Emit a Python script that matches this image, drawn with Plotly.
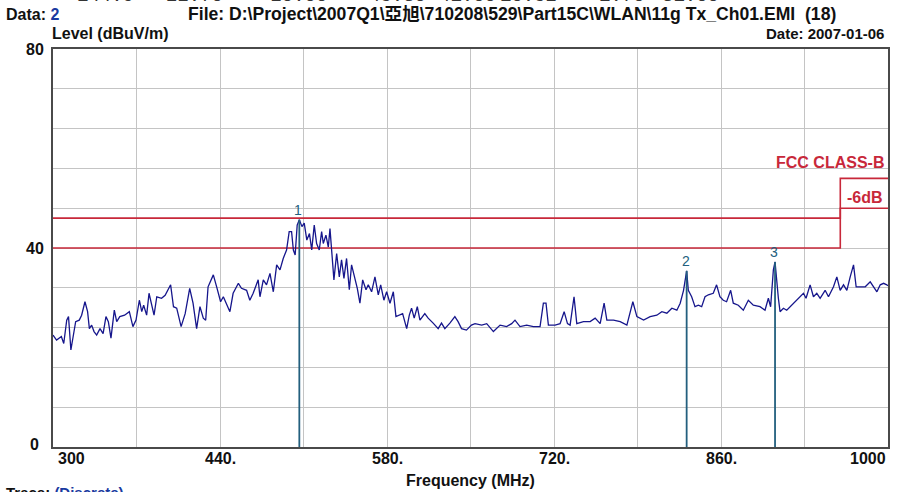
import plotly.graph_objects as go

# ---------------- data ----------------
freq_mhz = [
    300, 303, 307, 309, 311.5, 313, 315, 317, 319, 322, 324, 326.8, 329, 330.5, 332.4, 334.4,
    336.6, 339.4, 342, 344.4, 346.4, 348.6, 351.4, 353.4, 356, 360, 364, 367, 369.6, 372.4,
    374.4, 376, 378.5, 380.5, 382.7, 384.7, 387, 391, 394, 396.7, 398.6, 401, 403.7, 407.4,
    410.8, 414.6, 417.4, 420.4, 423.2, 426, 428, 430, 434.4, 437.2, 440.5, 442.8, 445.6,
    448.3, 451, 455.4, 458, 462.3, 465, 467.8, 472, 473.5, 476.3, 479, 481.9, 484.7, 487.5,
    490.3, 493, 495.8, 498, 500, 501.5, 503, 504.7, 506.5, 508.7, 510.6, 512.8, 515, 516.9,
    519, 521, 523.2, 525.2, 526.6, 528.8, 530.8, 532.2, 533.6, 535.5, 537.8, 540, 541.9,
    543.9, 546.1, 548.4, 550.3, 553.1, 555.1, 557.3, 559.6, 562.4, 564.3, 567.1, 569.9,
    572.7, 574.7, 577.4, 579.7, 582.5, 585.3, 587.5, 590.3, 593.1, 596.5, 598.7, 600.6,
    602.8, 605.4, 607.6, 611.7, 614.5, 618.7, 622.9, 625.7, 628.5, 632.7, 636.9, 639.6,
    642.5, 646.6, 650.8, 653.8, 659.4, 663.6, 669.2, 674.8, 680.3, 684.5, 687.3, 691.5,
    697.1, 702.7, 708.3, 711.1, 713.3, 715.3, 720.9, 725.1, 728.5, 731.3, 733.5, 736.8,
    739.1, 744.7, 750.3, 754.5, 758.7, 762.0, 764.3, 769.9, 775.5, 781.1, 786.1, 789.5,
    795.1, 800.6, 806.2, 810.4, 814.6, 818.8, 823, 825.8, 828.6, 831.2, 832.6, 835.4,
    838.2, 841, 843.8, 846.6, 849.4, 853.5, 856.3, 859.1, 861.9, 864.7, 868.1, 870.3,
    874.5, 878.7, 882.9, 887.1, 892.7, 896.9, 899.7, 901.6, 903.9, 905.3, 906.7, 908.1,
    909.5, 912.3, 915.1, 919.3, 923.5, 926.3, 929.1, 931.3, 934.7, 937.5, 940.3, 943.1,
    947.3, 950.1, 954.3, 957.1, 959.9, 962.7, 965.5, 968.3, 971.1, 973.3, 976.7, 980.9,
    985.1, 987.9, 990.7, 993.5, 996.3, 999, 1000,
]
level_dbuv = [
    22.5, 21.5, 22.2, 20.8, 25.5, 26.2, 19.5, 22.8, 25.2, 25.5, 26.5, 29.2, 27.2, 23.8, 24.5, 23.2,
    22.5, 23.8, 22.8, 26.2, 25.2, 21.9, 27.5, 25.2, 26.2, 26.5, 27.2, 24.2, 25.5, 29.5,
    27.2, 28.5, 26.5, 30.9, 28.9, 26.5, 30.2, 29.9, 30.5, 31.9, 32.6, 28.2, 27.9, 24.2,
    26.8, 31.9, 28.9, 23.8, 28.2, 25.9, 25.5, 32.2, 34.6, 32.2, 29.2, 30.2, 28.5,
    27.2, 30.9, 32.9, 31.9, 31.5, 29.5, 30.9, 33.6, 30.2, 33.6, 32.6, 34.9, 31.2, 36.6,
    35.6, 37.9, 39.6, 43.3, 43.3, 39.6, 38.6, 44.6, 45.7, 44.3, 45.0, 41.6, 42.9, 39.6,
    44.6, 40.9, 39.6, 43.3, 40.9, 42.6, 40.2, 43.9, 39.6, 33.6, 38.9, 34.2, 37.6,
    33.9, 37.9, 31.6, 36.6, 33.9, 31.9, 28.9, 33.6, 31.6, 32.6, 31.2, 34.2,
    30.6, 32.6, 29.5, 31.2, 28.9, 31.2, 26.2, 26.5, 26.8, 23.8, 26.5, 27.9,
    25.9, 28.2, 25.5, 26.8, 25.9, 24.9, 23.8, 24.9, 23.8, 24.9, 26.2, 25.2,
    23.8, 23.5, 24.5, 24.8, 24.5, 24.8, 23.2, 24.5, 24.2, 24.8, 25.5, 24.2,
    24.5, 24.2, 24.2, 28.9, 28.9, 24.5, 24.5, 24.8, 27.2, 24.8, 24.5, 30.2,
    24.8, 25.2, 25.2, 25.9, 24.8, 28.9, 25.5, 25.5, 25.2, 24.5, 29.2, 26.2,
    25.5, 26.2, 26.5, 27.2, 26.9, 27.9, 27.5, 28.9, 31.5, 35.4, 31.5, 30.2,
    28.2, 28.5, 28.2, 30.2, 30.6, 30.9, 32.6, 30.2, 29.5, 29.2, 31.5, 28.9,
    28.5, 27.5, 29.5, 28.5, 28.2, 27.5, 29.9, 28.2, 35.6, 37.2, 32.9, 29.9,
    27.2, 27.9, 27.5, 28.5, 29.5, 30.2, 30.9, 29.9, 32.6, 30.2, 30.9, 29.9,
    31.5, 30.2, 32.2, 34.2, 31.5, 32.6, 31.5, 34.2, 36.6, 32.2, 32.2, 32.2,
    33.2, 32.2, 31.2, 32.6, 32.9, 32.6, 32.4,
]

# FCC class B limit and the -6 dB margin line
limit_freq = [300, 960, 960, 1000]
limit_level = [46, 46, 54, 54]
margin_db = 6

# Marked peaks
marker_ids = ["1", "2", "3"]
marker_freq = [506.5, 831.2, 905.3]
marker_level = [45.7, 35.4, 37.2]

# Axis ticks
x_grid = list(range(300, 1001, 70))
x_labels = {300: "300", 440: "440.", 580: "580.", 720: "720.", 860: "860.", 1000: "1000"}
y_grid = list(range(0, 81, 8))
y_labels = {0: "0", 40: "40", 80: "80"}

# Cut-off header row values
header_values = ["144.9", "22.70", "-20.00", "45.30", "41.00", "10.52", "1.70", "31.00", "---", "---"]
header_px = [105, 194, 293, 397, 467, 528, 622, 690, 762, 853]

# ---------------- figure ----------------
W, H = 901, 492
L, R, T, B = 53, 13, 49, 45
PW, PH = W - L - R, H - T - B


def px_x(px):
    return (px - L) / PW


def px_y(py):
    return (H - B - py) / PH


FONT = "Liberation Sans, Arial, sans-serif"
RED = "#c8283a"
NAVY = "#16168c"
MARK = "#235f7e"
TXT = "#111111"

fig = go.Figure()

fig.add_trace(go.Scatter(x=limit_freq, y=limit_level, mode="lines",
                         line=dict(color=RED, width=1.6), hoverinfo="skip"))
fig.add_trace(go.Scatter(x=limit_freq, y=[v - margin_db for v in limit_level], mode="lines",
                         line=dict(color=RED, width=1.6), hoverinfo="skip"))

fig.add_trace(go.Scatter(x=freq_mhz, y=level_dbuv, mode="lines",
                         line=dict(color=NAVY, width=1.3), hoverinfo="skip"))

mx, my = [], []
for f, v in zip(marker_freq, marker_level):
    mx += [f, f, None]
    my += [0, v, None]
fig.add_trace(go.Scatter(x=mx, y=my, mode="lines",
                         line=dict(color=MARK, width=1.8), hoverinfo="skip"))

ann = []
for mid, f, v in zip(marker_ids, marker_freq, marker_level):
    ann.append(dict(x=f, y=v, xref="x", yref="y", text=mid, showarrow=False,
                    yanchor="bottom", yshift=0, xshift=-1,
                    font=dict(family=FONT, size=14, color=MARK)))

# limit labels
ann.append(dict(x=1000, y=57.2, xref="x", yref="y", text="<b>FCC CLASS-B</b>", showarrow=False,
                xanchor="right", xshift=-2, font=dict(family=FONT, size=16, color=RED)))
ann.append(dict(x=1000, y=50.2, xref="x", yref="y", text="<b>-6dB</b>", showarrow=False,
                xanchor="right", xshift=-3, font=dict(family=FONT, size=16, color=RED)))

# x tick labels
for xv, lab in x_labels.items():
    anchor = "left" if xv == 300 else ("right" if xv == 1000 else "center")
    ann.append(dict(x=xv, y=px_y(459), xref="x", yref="paper", text="<b>%s</b>" % lab,
                    showarrow=False, xanchor=anchor, yanchor="middle",
                    xshift=3 if xv == 300 else 0,
                    font=dict(family=FONT, size=16, color=TXT)))
# y tick labels
for yv, lab in y_labels.items():
    ann.append(dict(x=px_x(46 if yv else 41), y=yv, xref="paper", yref="y", text="<b>%s</b>" % lab,
                    showarrow=False, xanchor="right", yanchor="middle",
                    yshift=3 if yv == 0 else 0,
                    font=dict(family=FONT, size=16, color=TXT)))

# titles / header text
ann += [
    dict(x=px_x(470), y=px_y(480), xref="paper", yref="paper", text="<b>Frequency (MHz)</b>",
         showarrow=False, xanchor="center", yanchor="middle",
         font=dict(family=FONT, size=16, color=TXT)),
    dict(x=px_x(50), y=px_y(33), xref="paper", yref="paper", text="<b>Level (dBuV/m)</b>",
         showarrow=False, xanchor="left", yanchor="middle",
         font=dict(family=FONT, size=16, color=TXT)),
    dict(x=px_x(886), y=px_y(33), xref="paper", yref="paper", text="<b>Date: 2007-01-06</b>",
         showarrow=False, xanchor="right", yanchor="middle",
         font=dict(family=FONT, size=15, color=TXT)),
    dict(x=px_x(4), y=px_y(14), xref="paper", yref="paper",
         text="<b>Data: </b><span style='color:#1a3aa0'><b>2</b></span>",
         showarrow=False, xanchor="left", yanchor="middle",
         font=dict(family=FONT, size=16, color=TXT)),
    dict(x=px_x(186), y=px_y(14), xref="paper", yref="paper",
         text="<b>File: D:\\Project\\2007Q1\\亞旭\\710208\\529\\Part15C\\WLAN\\11g Tx_Ch01.EMI  (18)</b>",
         showarrow=False, xanchor="left", yanchor="middle",
         font=dict(family=FONT + ", Noto Sans CJK TC", size=17.6, color=TXT)),
    dict(x=px_x(4), y=px_y(492), xref="paper", yref="paper",
         text="<b>Trace: </b><span style='color:#1a3aa0'><b>(Discrete)</b></span>",
         showarrow=False, xanchor="left", yanchor="middle",
         font=dict(family=FONT, size=15, color=TXT)),
]
for val, p in zip(header_values, header_px):
    ann.append(dict(x=px_x(p), y=px_y(-4), xref="paper", yref="paper", text=val,
                    showarrow=False, xanchor="center", yanchor="middle",
                    font=dict(family="Liberation Mono, Courier New, monospace", size=19, color="#333333")))

fig.update_layout(
    width=W, height=H,
    margin=dict(l=L, r=R, t=T, b=B, pad=0),
    paper_bgcolor="white", plot_bgcolor="white",
    showlegend=False,
    annotations=ann,
    xaxis=dict(range=[300, 1000], tickvals=x_grid, showticklabels=False, ticks="",
               showgrid=True, gridcolor="#c4c4c4", gridwidth=1, zeroline=False,
               showline=True, mirror=True, linecolor="#4a4a4a", linewidth=2),
    yaxis=dict(range=[0, 80], tickvals=y_grid, showticklabels=False, ticks="",
               showgrid=True, gridcolor="#c4c4c4", gridwidth=1, zeroline=False,
               showline=True, mirror=True, linecolor="#4a4a4a", linewidth=2),
)

fig.write_html("out.html", config={"displayModeBar": False},
               post_script="document.body.style.margin='0px';document.body.style.overflow='hidden';")
